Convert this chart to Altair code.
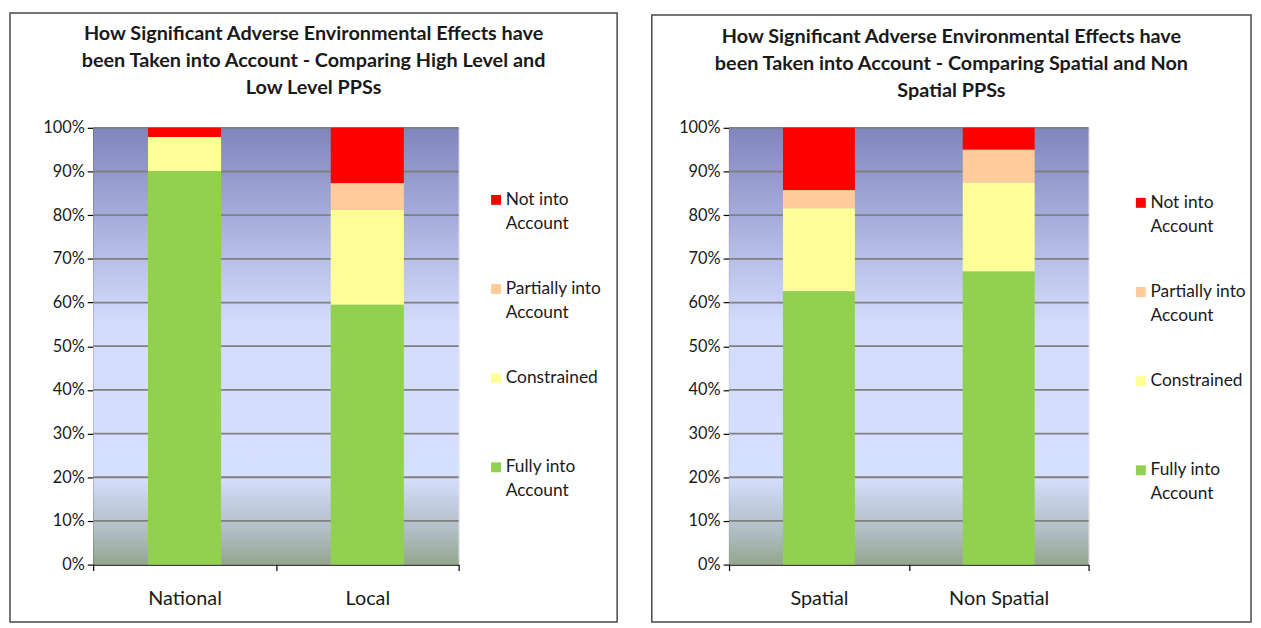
import altair as alt
import pandas as pd

# ---------------- data ----------------
series = ["Not into Account", "Partially into Account", "Constrained", "Fully into Account"]
series_colors = ["#FF0000", "#FFCC99", "#FFFF99", "#92D050"]
stack_rank = [3, 2, 1, 0]  # Fully at the bottom

left_groups = ["National", "Local"]
left_not = [2.1, 12.7]
left_partially = [0.0, 6.1]
left_constrained = [7.8, 21.7]
left_fully = [90.1, 59.5]

right_groups = ["Spatial", "Non Spatial"]
right_not = [14.3, 5.0]
right_partially = [4.1, 7.5]
right_constrained = [19.0, 20.4]
right_fully = [62.6, 67.1]

y_ticks = [0, 10, 20, 30, 40, 50, 60, 70, 80, 90, 100]

left_title = ["How Significant Adverse Environmental Effects have",
              "been Taken into Account - Comparing High Level and",
              "Low Level PPSs"]
right_title = ["How Significant Adverse Environmental Effects have",
               "been Taken into Account - Comparing Spatial and Non",
               "Spatial PPSs"]

FONT = "Lato"
TEXT = "#1a1a1a"


def build_df(groups, not_, part, cons, full):
    rows = []
    vals = [not_, part, cons, full]
    for gi, g in enumerate(groups):
        for si, s in enumerate(series):
            rows.append({"group": g, "series": s, "value": vals[si][gi], "rank": stack_rank[si]})
    return pd.DataFrame(rows)


bg_gradient = alt.LinearGradient(
    gradient="linear", x1=0, x2=0, y1=0, y2=1,
    stops=[
        alt.GradientStop(offset=0.0, color="#8185BE"),
        alt.GradientStop(offset=0.45, color="#D3DCFC"),
        alt.GradientStop(offset=0.80, color="#D5DFFF"),
        alt.GradientStop(offset=0.86, color="#C2CDE2"),
        alt.GradientStop(offset=0.92, color="#B1BFC6"),
        alt.GradientStop(offset=1.0, color="#93A68C"),
    ],
)

label_expr = ("indexof(datum.label, ' ') < 0 ? [datum.label, ''] : "
              "[substring(datum.label, 0, lastindexof(datum.label, ' ')), "
              "substring(datum.label, lastindexof(datum.label, ' ') + 1)]")

y_axis = alt.Axis(values=y_ticks, labelExpr="datum.value + '%'", labelFontSize=16.5,
                  labelFont=FONT, labelColor=TEXT, tickSize=6, tickColor="#000",
                  tickWidth=1.2, domainColor="#000", domainWidth=1.2,
                  labelPadding=3, grid=False)


def panel(groups, not_, part, cons, full, title, w, h, frame, legend_xy, title_offset):
    df = build_df(groups, not_, part, cons, full)
    yscale = alt.Scale(domain=[0, 100], nice=False)

    background = alt.Chart(pd.DataFrame({"a": [0]})).mark_rect(color=bg_gradient).encode(
        x=alt.value(0), x2=alt.value("width"), y=alt.value(0), y2=alt.value("height")
    )

    grid = alt.Chart(pd.DataFrame({"v": y_ticks[1:]})).mark_rule(
        color="#808080", strokeWidth=1.8
    ).encode(y=alt.Y("v:Q", scale=yscale, axis=y_axis, title=None))

    bars = alt.Chart(df).mark_bar(width=alt.RelativeBandSize(0.4)).encode(
        x=alt.X("group:N", sort=groups, title=None,
                scale=alt.Scale(paddingInner=0, paddingOuter=0),
                axis=alt.Axis(labelAngle=0, labelFontSize=20, labelFont=FONT, labelColor=TEXT,
                              tickBand="extent", tickSize=6, tickColor="#000", tickWidth=1.2,
                              domainColor="#000", domainWidth=1.2, labelPadding=18, grid=False)),
        y=alt.Y("value:Q", stack=True, scale=yscale, title=None, axis=y_axis),
        color=alt.Color("series:N", scale=alt.Scale(domain=series, range=series_colors),
                        legend=alt.Legend(title=None, orient="none", legendX=legend_xy[0],
                                          legendY=legend_xy[1], symbolType="square",
                                          symbolSize=100, symbolStrokeWidth=0,
                                          symbolOpacity=1, labelFontSize=17.5, labelFont=FONT,
                                          labelColor=TEXT, labelOffset=1, labelLimit=300,
                                          labelExpr=label_expr, rowPadding=47, padding=0)),
        order=alt.Order("rank:Q", sort="ascending"),
    )

    fx, fx2, fy, fy2 = frame
    border = alt.Chart(pd.DataFrame({"a": [0]})).mark_rect(
        filled=False, color="#4a4a4a", strokeWidth=1.5
    ).encode(x=alt.value(fx), x2=alt.value(fx2), y=alt.value(fy), y2=alt.value(fy2))

    return alt.layer(background, grid, bars, border).properties(
        width=w, height=h,
        title=alt.TitleParams(text=title, fontSize=20, font=FONT, fontWeight="bold",
                              color=TEXT, anchor="middle", frame="bounds",
                              lineHeight=27.5, offset=title_offset),
    )


left = panel(left_groups, left_not, left_partially, left_constrained, left_fully, left_title,
             369, 441, (-84, 529, -116, 499), (398, 64), -87)
right = panel(right_groups, right_not, right_partially, right_constrained, right_fully, right_title,
              363, 441, (-78, 527, -114, 499), (407, 67), -88)

chart = alt.hconcat(left, right, spacing=31).resolve_scale(color="independent").properties(
    padding={"left": 0, "top": 0, "right": 0, "bottom": 0},
    autosize=alt.AutoSizeParams(type="pad"),
).configure_view(stroke="#A8A8A8", strokeWidth=2).configure(
    background="white", padding=0, style={"guide-label": {"lineHeight": 24}}
)

chart.save("out.html", embed_options={"renderer": "svg", "actions": False})
